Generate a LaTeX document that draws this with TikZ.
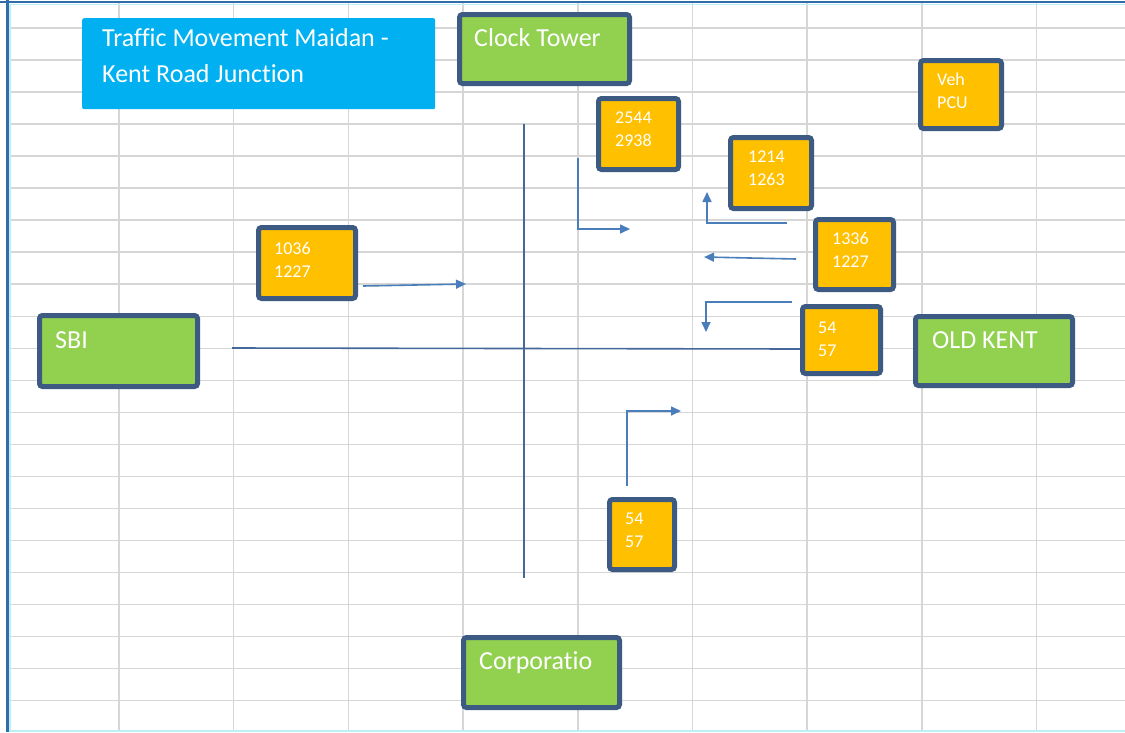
\documentclass[tikz,border=0pt]{standalone}
\usepackage{fontspec}
\setmainfont{Carlito}[Ligatures=NoCommon]
\usetikzlibrary{arrows.meta,calc}
\definecolor{gridgray}{HTML}{D6D6D6}
\definecolor{boxgreen}{HTML}{92D050}
\definecolor{boxorange}{HTML}{FFC000}
\definecolor{boxedge}{HTML}{3C5A82}
\definecolor{titleblue}{HTML}{00B0F0}
\definecolor{flow}{HTML}{4A7EBB}
\definecolor{road}{HTML}{44689A}
\definecolor{frameblue}{HTML}{2F6EA8}
\definecolor{framecyan}{HTML}{BDEFF8}
\begin{document}
\begin{tikzpicture}[x=1pt,y=-1pt,
  gbox/.style={anchor=north west,draw=boxedge,line width=5pt,rounded corners=3pt,inner sep=0pt,fill=boxgreen},
  obox/.style={anchor=north west,draw=boxedge,line width=5pt,rounded corners=3pt,inner sep=0pt,fill=boxorange},
  lbl/.style={anchor=base west,inner sep=0pt,text=white,font=\fontsize{26}{31}\selectfont},
  % two-line count labels: placed by the baseline of their second line
  num/.style={anchor=base west,inner sep=0pt,text=white,align=left,font=\fontsize{18}{23}\selectfont},
  flowarrow/.style={draw=flow,line width=1.6pt,-{Triangle[length=10pt,width=9pt]}},
  roadline/.style={draw=road,line width=1.6pt}]
\useasboundingbox (0,0) rectangle (1125,732);
\fill[white] (0,0) rectangle (1125,732);

% sheet grid
\foreach \i in {0,...,8}
  \draw[gridgray,line width=1.5pt] ({119+114.7*\i},3) -- ({119+114.7*\i},730);
\foreach \j in {0,...,21}
  \draw[gridgray,line width=1.5pt] (8,{28+32.03*\j}) -- (1125,{28+32.03*\j});

% sheet frame
\draw[framecyan,line width=2pt] (9.5,4) -- (9.5,730);
\draw[framecyan,line width=2pt] (8,730.5) -- (1125,730.5);
\draw[framecyan,line width=1.5pt] (8,4.5) -- (1125,4.5);
\draw[frameblue,line width=2.5pt] (0,2) -- (1125,2);
\draw[frameblue,line width=2.2pt] (7.5,0) -- (7.5,732);

% roads through the junction
\coordinate (rn) at (524,124);
\coordinate (rs) at (524,578);
\coordinate (rw) at (232,348);
\coordinate (re) at (803,349);
\draw[roadline] (rn) -- (rs);
\draw[roadline] (rw) -- (re);

% turning movements
\coordinate (a1s) at (578,158);  \coordinate (a1e) at (630,229);
\coordinate (a2s) at (787,223);  \coordinate (a2e) at (707,192);
\coordinate (a3s) at (796,259);  \coordinate (a3e) at (704,257);
\coordinate (a4s) at (792,302);  \coordinate (a4e) at (706,332);
\coordinate (a5s) at (627,486);  \coordinate (a5e) at (681,411);
\coordinate (a6s) at (363,286);  \coordinate (a6e) at (466,284);
\draw[flowarrow] (a1s) |- (a1e);
\draw[flowarrow] (a2s) -| (a2e);
\draw[flowarrow] (a3s) -- (a3e);
\draw[flowarrow] (a4s) -| (a4e);
\draw[flowarrow] (a5s) |- (a5e);
\draw[flowarrow] (a6s) -- (a6e);

% title
\node[anchor=north west,fill=titleblue,rounded corners=2pt,inner sep=0pt,
      minimum width=353pt,minimum height=91pt] (title) at (82,18) {};
\node[anchor=base west,inner sep=0pt,text=white,align=left,
      font=\fontsize{26}{36.5}\selectfont] (title-t) at (102,82.5)
  {Traffic Movement Maidan -\\Kent Road Junction};

% approaches
\node[gbox,minimum width=170pt,minimum height=69pt] (ct) at (457,12) {};
\node[lbl] (ct-t) at (474,46) {Clock Tower};
\node[gbox,minimum width=158pt,minimum height=71pt] (sbi) at (37,313) {};
\node[lbl] (sbi-t) at (55,348) {SBI};
\node[gbox,minimum width=157pt,minimum height=69pt] (ok) at (913,314) {};
\node[lbl] (ok-t) at (932,348) {OLD KENT};
\node[gbox,minimum width=156pt,minimum height=70pt] (corp) at (461,635) {};
\node[lbl] (corp-t) at (479,669) {Corporatio};

% counts (vehicles / PCU)
\node[obox,minimum width=81pt,minimum height=68pt] (veh) at (918,58) {};
\node[num] (veh-t) at (937,108) {Veh\\PCU};
\node[obox,minimum width=80pt,minimum height=71pt] (p1) at (596,96) {};
\node[num] (p1-t) at (615,146) {2544\\2938};
\node[obox,minimum width=81pt,minimum height=71pt] (p2) at (728,135) {};
\node[num] (p2-t) at (748,185) {1214\\1263};
\node[obox,minimum width=78pt,minimum height=70pt] (p3) at (813,217) {};
\node[num] (p3-t) at (832,267) {1336\\1227};
\node[obox,minimum width=78pt,minimum height=67pt] (p4) at (800,304) {};
\node[num] (p4-t) at (818,356) {54\\57};
\node[obox,minimum width=97pt,minimum height=71pt] (p5) at (256,225) {};
\node[num] (p5-t) at (274,277) {1036\\1227};
\node[obox,minimum width=65pt,minimum height=70pt] (p6) at (607,497) {};
\node[num] (p6-t) at (625,547) {54\\57};
\end{tikzpicture}
\end{document}
